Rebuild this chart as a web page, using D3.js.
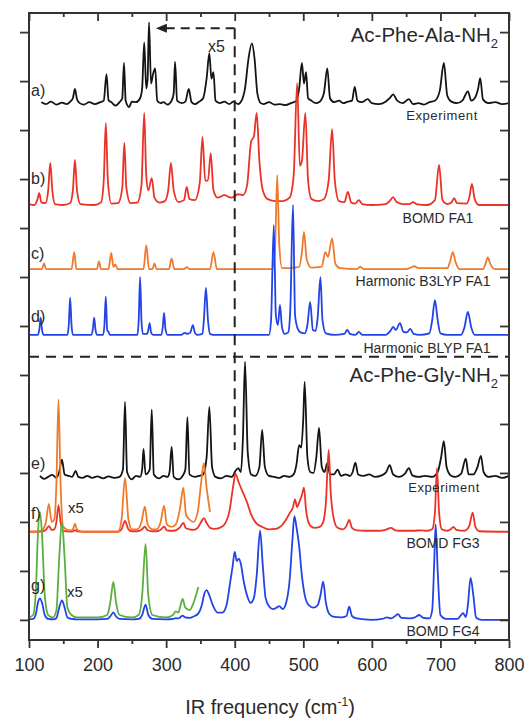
<!DOCTYPE html>
<html>
<head>
<meta charset="utf-8">
<script src="https://cdn.jsdelivr.net/npm/d3@7"></script>
<style>
  body { margin: 0; background: #fff; }
  svg { display: block; }
  text { font-family: "Liberation Sans", Arial, sans-serif; fill: #2a2a2a; }
</style>
</head>
<body>
<svg id="chart" width="525" height="718"></svg>
<script>
// ---- axis ticks -------------------------------------------------------
const freqTicks = [100, 200, 300, 400, 500, 600, 700, 800];
const freqMinorTicks = [150, 250, 350, 450, 550, 650, 750];
const intensityTicks = [0, 1, 2, 3, 4, 5, 6, 7, 8, 9, 10, 11, 12];

// ---- spectra: [frequency cm^-1, intensity (a.u.)] ---------------------
// Ac-Phe-Ala-NH2, experiment
const expFA = [[118,0.02],[125,-0.02],[132,0.03],[140,-0.03],[148,0.01],[155,-0.02],[160,0.03],[164,0.1],[167,0.29],[170,0.08],[174,0.0],[180,-0.03],[188,0.02],[196,-0.02],[204,0.02],[209,0.05],[213,0.59],[216,0.06],[220,0.02],[226,-0.05],[232,0.02],[236,0.1],[238.5,0.82],[241,0.05],[246,-0.08],[250,0.03],[256,0.02],[262,0.1],[265,0.3],[268,1.24],[271,0.3],[273,0.5],[275,1.65],[278,0.4],[281,0.6],[284,0.71],[287,0.05],[292,0.0],[296,0.02],[302,-0.03],[308,0.05],[311,0.2],[313,0.84],[316,0.05],[323,0.0],[328,0.03],[333,0.29],[337,0.02],[342,-0.02],[348,0.03],[354,0.1],[359,0.5],[363,1.02],[366,0.5],[369,0.63],[372,0.05],[378,0.0],[385,0.03],[392,-0.02],[398,0.03],[405,-0.02],[410,0.05],[415,0.3],[420,0.9],[425,1.22],[429,0.9],[433,0.2],[438,0.0],[442,-0.02],[450,0.02],[458,-0.03],[466,-0.02],[474,-0.04],[482,0.0],[490,0.05],[494,0.3],[498,0.82],[501,0.4],[504,0.63],[507,0.1],[512,0.05],[518,0.0],[524,0.03],[530,0.2],[535,0.71],[539,0.1],[545,0.02],[552,0.05],[558,0.0],[565,0.03],[571,0.05],[575,0.33],[579,0.05],[585,0.02],[594,0.08],[600,0.0],[610,-0.02],[620,0.03],[626,0.1],[631,0.18],[637,0.05],[645,0.0],[654,0.08],[660,-0.02],[668,0.0],[676,-0.03],[684,0.02],[692,0.05],[699,0.25],[705,0.82],[710,0.15],[716,0.03],[724,0.0],[732,0.05],[740,0.24],[745,0.05],[750,0.1],[755,0.3],[758,0.51],[762,0.08],[770,0.0],[780,0.02],[790,-0.02],[800,0.0]];

// BOMD FA1
const bomdFA1 = [[100,0.02],[108,0.0],[112,0.1],[115,0.24],[118,0.05],[124,0.04],[128,0.3],[131,0.86],[134,0.3],[138,0.02],[150,0.0],[160,0.04],[164,0.3],[167,0.92],[170,0.3],[175,0.02],[195,0.0],[205,0.05],[209,0.5],[212,1.67],[215,0.5],[220,0.03],[230,0.04],[236,0.35],[239,1.27],[242,0.35],[248,0.04],[258,0.05],[264,0.4],[268,1.88],[271,0.6],[274,0.3],[279,0.55],[283,0.15],[290,0.05],[298,0.08],[303,0.3],[307,0.86],[311,0.3],[318,0.06],[326,0.1],[330,0.37],[334,0.12],[342,0.1],[349,0.45],[353,1.39],[357,0.5],[361,0.5],[365,1.06],[369,0.3],[375,0.15],[385,0.2],[395,0.15],[405,0.22],[412,0.2],[418,0.4],[424,1.3],[428,1.4],[432,1.88],[436,0.9],[441,0.3],[448,0.12],[460,0.08],[470,0.08],[480,0.15],[486,0.6],[491,2.49],[495,0.8],[498,0.9],[503,1.88],[507,0.5],[512,0.12],[522,0.08],[530,0.12],[537,0.5],[542,1.55],[546,0.5],[552,0.08],[560,0.06],[565,0.27],[570,0.05],[576,0.03],[581,0.1],[586,0.02],[600,0.0],[620,0.02],[626,0.08],[631,0.16],[636,0.06],[645,0.02],[655,0.02],[660,0.06],[665,0.02],[680,0.0],[692,0.1],[698,0.82],[703,0.1],[710,0.02],[716,0.05],[720,0.14],[724,0.04],[738,0.03],[742,0.15],[746,0.43],[750,0.12],[756,0.0],[800,0.0]];

// Harmonic B3LYP FA1
const b3lypFA1 = [[100,0],[119,0],[122,0.12],[125,0],[162,0],[166,0.35],[169,0],[199,0],[202,0.16],[205,0],[216,0],[220,0.33],[223,0.05],[226,0.1],[229,0],[267,0],[271,0.49],[275,0],[280,0],[283,0.12],[286,0],[304,0],[308,0.22],[312,0],[326,0],[330,0.04],[334,0],[364,0],[369,0.35],[374,0],[455,0],[459,0.5],[462,1.92],[465,0.5],[469,0.02],[480,0.02],[485,0.03],[494,0.05],[498,0.35],[501,0.76],[505,0.2],[512,0.03],[527,0.05],[532,0.35],[536,0.25],[542,0.63],[547,0.1],[554,0.02],[578,0],[583,0.05],[588,0],[650,0],[658,0.04],[662,0.06],[668,0.02],[710,0.02],[714,0.15],[718,0.35],[722,0.15],[728,0],[762,0],[766,0.12],[769,0.24],[773,0.1],[780,0],[800,0]];

// Harmonic BLYP FA1
const blypFA1 = [[100,0],[113,0],[115,0.1],[117,0.35],[119,0.1],[121,0],[156,0],[158,0.2],[160,0.76],[162,0.2],[164,0],[191,0],[193,0.1],[195,0.35],[197,0.1],[199,0],[208,0],[210,0.2],[212,0.78],[214,0.1],[216,0.06],[218,0],[258,0],[260,0.3],[262,1.18],[264,0.3],[266,0.02],[272,0.02],[274,0.1],[276,0.24],[278,0.05],[281,0],[293,0],[295,0.15],[297,0.45],[299,0.12],[302,0],[322,0],[327,0.04],[331,0.02],[335,0.04],[339,0.2],[342,0.04],[345,0],[353,0.02],[355,0.3],[358,0.96],[361,0.3],[364,0.02],[369,0],[450,0],[453,0.3],[457,2.24],[460,0.4],[463,0.2],[466,0.61],[469,0.15],[473,0.02],[478,0.05],[481,0.5],[485,2.65],[488,0.4],[492,0.12],[496,0.05],[502,0.03],[506,0.2],[510,0.67],[514,0.1],[518,0.08],[521,0.35],[525,1.18],[528,0.3],[533,0.03],[545,0],[560,0.02],[564,0.1],[568,0.02],[576,0],[581,0.06],[586,0],[620,0],[627,0.08],[631,0.16],[635,0.1],[641,0.24],[646,0.06],[651,0.05],[656,0.12],[661,0.02],[670,0],[684,0.03],[688,0.3],[692,0.71],[696,0.3],[700,0.03],[710,0],[730,0],[735,0.15],[740,0.47],[745,0.15],[750,0],[800,0]];

// Ac-Phe-Gly-NH2, experiment
const expFG = [[116,0.02],[122,-0.04],[128,0.0],[134,0.04],[140,-0.02],[144,0.1],[148,0.35],[152,0.05],[158,0.02],[163,0.0],[168,0.12],[172,0.0],[178,-0.02],[185,0.02],[192,-0.02],[200,0.01],[208,-0.03],[216,0.01],[224,-0.02],[232,0.0],[237,0.15],[240,1.53],[243,0.1],[250,-0.05],[256,0.02],[262,0.0],[265,0.15],[267,0.57],[270,0.05],[276,0.15],[279,1.37],[282,0.05],[290,-0.03],[296,0.02],[302,0.0],[305,0.1],[308,0.61],[311,0.0],[318,-0.05],[324,0.02],[328,0.15],[331,1.22],[334,0.05],[342,0.0],[348,0.02],[354,0.05],[359,0.4],[363,1.43],[367,0.2],[372,0.0],[380,-0.03],[388,0.02],[396,0.0],[401,0.12],[405,0.18],[409,0.1],[412,0.8],[415,2.35],[419,0.5],[424,0.05],[430,0.02],[436,0.2],[440,0.96],[444,0.2],[450,0.02],[458,0.0],[465,-0.02],[472,0.02],[480,0.0],[486,0.05],[490,0.25],[494,0.65],[497,0.6],[500,1.2],[502,1.94],[506,0.4],[510,0.1],[515,0.08],[519,0.4],[523,1.0],[527,0.2],[531,0.1],[535,0.28],[539,0.05],[545,0.05],[550,0.15],[555,0.02],[562,0.05],[568,0.02],[572,0.1],[576,0.29],[580,0.05],[588,0.02],[596,0.05],[605,0.0],[614,0.03],[621,0.1],[626,0.24],[631,0.05],[640,0.0],[648,0.06],[654,0.18],[659,0.03],[668,0.0],[678,0.02],[688,0.0],[696,0.1],[701,0.4],[705,0.73],[709,0.2],[715,0.03],[722,0.0],[730,0.06],[737,0.37],[741,0.05],[748,0.05],[754,0.2],[759,0.43],[763,0.1],[770,0.0],[780,0.02],[790,-0.02],[800,0.02]];

// BOMD FG3
const bomdFG3 = [[100,0.0],[118,0.005],[124,0.03],[129,0.114],[133,0.04],[137,0.05],[140,0.2],[143,0.54],[146,0.2],[150,0.02],[160,0.005],[164,0.01],[167,0.033],[170,0.008],[180,0.0],[230,0.0],[235,0.05],[240,0.22],[245,0.05],[250,0.01],[258,0.01],[264,0.04],[269,0.102],[273,0.03],[280,0.01],[286,0.01],[292,0.04],[297,0.106],[301,0.03],[308,0.02],[314,0.03],[320,0.09],[325,0.18],[329,0.07],[334,0.05],[340,0.04],[346,0.08],[351,0.2],[355,0.28],[359,0.18],[364,0.08],[370,0.06],[378,0.08],[385,0.15],[392,0.4],[398,0.95],[401,1.18],[406,1.0],[412,0.8],[418,0.6],[424,0.35],[431,0.18],[440,0.1],[450,0.05],[460,0.06],[468,0.12],[475,0.25],[481,0.4],[485,0.5],[488,0.66],[491,0.5],[494,0.6],[498,0.75],[501,0.9],[504,0.45],[509,0.15],[516,0.08],[524,0.1],[529,0.2],[533,0.6],[537,1.67],[540,0.8],[544,0.3],[550,0.08],[558,0.05],[563,0.12],[567,0.24],[571,0.08],[578,0.03],[590,0.02],[610,0.02],[620,0.04],[628,0.08],[634,0.03],[645,0.02],[660,0.02],[672,0.03],[680,0.02],[688,0.05],[692,0.4],[695,1.3],[698,0.4],[702,0.05],[710,0.02],[715,0.05],[719,0.1],[723,0.04],[735,0.02],[742,0.12],[747,0.39],[751,0.1],[757,0.01],[800,0.0]];

// BOMD FG4
const bomdFG4 = [[100,0.01],[106,0.02],[110,0.12],[113,0.35],[116,0.44],[119,0.35],[123,0.1],[128,0.02],[135,0.01],[140,0.04],[144,0.25],[148,0.4],[152,0.25],[156,0.05],[162,0.02],[170,0.01],[200,0.01],[214,0.02],[219,0.08],[223,0.155],[227,0.07],[232,0.02],[250,0.01],[260,0.02],[265,0.1],[270,0.31],[274,0.1],[280,0.02],[300,0.01],[310,0.02],[314,0.035],[318,0.03],[321,0.06],[324,0.086],[328,0.05],[334,0.04],[340,0.07],[347,0.134],[352,0.3],[356,0.55],[359,0.61],[363,0.5],[368,0.3],[375,0.15],[382,0.15],[388,0.3],[393,0.73],[397,1.1],[400,1.39],[403,1.2],[406,1.25],[409,1.14],[413,0.8],[418,0.5],[423,0.35],[428,0.45],[432,0.9],[437,1.82],[441,1.1],[445,0.45],[450,0.28],[456,0.22],[461,0.25],[465,0.28],[470,0.22],[475,0.35],[480,0.8],[484,1.6],[487,2.12],[490,1.9],[494,1.5],[498,0.9],[503,0.45],[508,0.3],[515,0.25],[521,0.3],[525,0.5],[529,0.78],[533,0.35],[538,0.12],[545,0.06],[555,0.05],[563,0.08],[567,0.27],[571,0.08],[578,0.03],[600,0.0],[615,0.02],[622,0.05],[628,0.03],[634,0.08],[638,0.12],[643,0.04],[655,0.03],[664,0.06],[669,0.1],[675,0.04],[684,0.03],[688,0.2],[691,1.2],[693,1.95],[696,1.0],[700,0.1],[708,0.02],[725,0.02],[730,0.1],[733,0.14],[737,0.06],[740,0.3],[744,0.86],[748,0.5],[752,0.05],[760,0.0],[800,0.0]];

// ---- layout -----------------------------------------------------------
const plot = { left: 29, right: 509, top: 13, bottom: 640 };

const x = d3.scaleLinear().domain([100, 800]).range([plot.left, plot.right]);
const y = d3.scaleLinear().domain([-0.41, 12.39]).range([plot.bottom, plot.top]);

const COLORS = {
  black: "#141414", red: "#ea3326", orange: "#f07a2c", blue: "#2343e6", green: "#5cae3e"
};

// each trace: data, vertical offset, colour, optional magnification and cut-off
const traces = [
  { data: expFA,    offset: 10.55, color: COLORS.black },
  { data: bomdFA1,  offset: 8.47,  color: COLORS.red },
  { data: b3lypFA1, offset: 7.16,  color: COLORS.orange },
  { data: blypFA1,  offset: 5.82,  color: COLORS.blue },
  { data: expFG,    offset: 2.92,  color: COLORS.black },
  { data: bomdFG3,  offset: 1.80,  color: COLORS.red },
  { data: bomdFG3,  offset: 1.80,  color: COLORS.orange, scale: 5, maxFreq: 368 },
  { data: bomdFG4,  offset: 0.0,   color: COLORS.blue },
  { data: bomdFG4,  offset: 0.0,   color: COLORS.green, scale: 5, maxFreq: 349 }
];

const svg = d3.select("#chart");

svg.append("defs").append("clipPath").attr("id", "plotClip")
  .append("rect")
  .attr("x", plot.left).attr("y", plot.top)
  .attr("width", plot.right - plot.left).attr("height", plot.bottom - plot.top);

// ---- spectra ----------------------------------------------------------
const traceLayer = svg.append("g").attr("clip-path", "url(#plotClip)");

traces.forEach(t => {
  const k = t.scale || 1;
  const pts = t.maxFreq ? t.data.filter(d => d[0] <= t.maxFreq) : t.data;
  const line = d3.line()
    .x(d => x(d[0]))
    .y(d => y(t.offset + k * d[1]))
    .curve(d3.curveMonotoneX);
  traceLayer.append("path")
    .attr("d", line(pts))
    .attr("fill", "none")
    .attr("stroke", t.color)
    .attr("stroke-width", 1.8)
    .attr("stroke-linejoin", "round");
});

// ---- dashed guides ----------------------------------------------------
const guide = svg.append("g")
  .attr("stroke", "#222").attr("stroke-width", 2).attr("fill", "none");

// vertical divider at 400 cm^-1
guide.append("line")
  .attr("x1", x(400)).attr("x2", x(400))
  .attr("y1", y(12.08)).attr("y2", y(3.47))
  .attr("stroke-dasharray", "11,7");

// horizontal divider between the two molecules
guide.append("line")
  .attr("x1", plot.left).attr("x2", plot.right)
  .attr("y1", y(5.37)).attr("y2", y(5.37))
  .attr("stroke-dasharray", "10,7");

// arrow marking the magnified low-frequency range
guide.append("line")
  .attr("x1", x(400)).attr("x2", x(300))
  .attr("y1", y(12.08)).attr("y2", y(12.08))
  .attr("stroke-dasharray", "9,6");
const ax = x(285), ay = y(12.08);
svg.append("path")
  .attr("d", `M${ax},${ay} L${ax + 11},${ay - 4.5} L${ax + 11},${ay + 4.5} Z`)
  .attr("fill", "#222");

// ---- frame and axes ---------------------------------------------------
const axisStyle = g => {
  g.select(".domain").remove();
  g.selectAll(".tick line").attr("stroke", "#333").attr("stroke-width", 1.8);
};

svg.append("g")
  .attr("transform", `translate(0,${plot.bottom})`)
  .call(d3.axisBottom(x).tickValues(freqTicks).tickSize(8).tickPadding(10).tickFormat(d3.format("d")))
  .call(axisStyle)
  .call(g => g.selectAll("text")
    .attr("font-size", 18).attr("fill", "#2a2a2a")
    .attr("font-family", "'Liberation Sans', Arial, sans-serif"));

svg.append("g")
  .attr("transform", `translate(0,${plot.bottom})`)
  .call(d3.axisBottom(x).tickValues(freqMinorTicks).tickSize(4).tickFormat(""))
  .call(axisStyle);

// top edge: inward ticks
svg.append("g")
  .attr("transform", `translate(0,${plot.top})`)
  .call(d3.axisBottom(x).tickValues(freqTicks).tickSize(8).tickFormat(""))
  .call(axisStyle);
svg.append("g")
  .attr("transform", `translate(0,${plot.top})`)
  .call(d3.axisBottom(x).tickValues(freqMinorTicks).tickSize(4).tickFormat(""))
  .call(axisStyle);

// left edge: outward ticks, right edge: inward ticks
svg.append("g")
  .attr("transform", `translate(${plot.left},0)`)
  .call(d3.axisLeft(y).tickValues(intensityTicks).tickSize(9).tickFormat(""))
  .call(axisStyle);
svg.append("g")
  .attr("transform", `translate(${plot.right},0)`)
  .call(d3.axisLeft(y).tickValues(intensityTicks).tickSize(9).tickFormat(""))
  .call(axisStyle);

svg.append("rect")
  .attr("x", plot.left).attr("y", plot.top)
  .attr("width", plot.right - plot.left).attr("height", plot.bottom - plot.top)
  .attr("fill", "none").attr("stroke", "#333").attr("stroke-width", 2);

// axis title
const xt = svg.append("text")
  .attr("x", 270).attr("y", 714)
  .attr("text-anchor", "middle").attr("font-size", 20);
xt.append("tspan").text("IR frequency (cm");
xt.append("tspan").attr("dy", -8).attr("font-size", 12).text("-1");
xt.append("tspan").attr("dy", 8).text(")");

// ---- annotations ------------------------------------------------------
function molecule(label, baseline) {
  const t = svg.append("text")
    .attr("x", 498).attr("y", baseline)
    .attr("text-anchor", "end").attr("font-size", 20.5);
  t.append("tspan").text(label);
  t.append("tspan").attr("dy", 6).attr("font-size", 13).text("2");
}
molecule("Ac-Phe-Ala-NH", 42);
molecule("Ac-Phe-Gly-NH", 382);

const traceNames = [
  { text: "Experiment",          cx: 442, y: 120, size: 13 },
  { text: "BOMD FA1",            cx: 438, y: 223, size: 14 },
  { text: "Harmonic B3LYP FA1",  cx: 423, y: 286, size: 14 },
  { text: "Harmonic BLYP FA1",   cx: 427, y: 353, size: 14 },
  { text: "Experiment",          cx: 444, y: 492, size: 13 },
  { text: "BOMD FG3",            cx: 443, y: 548, size: 14 },
  { text: "BOMD FG4",            cx: 443, y: 636, size: 14 }
];
traceNames.forEach(n => {
  svg.append("text")
    .attr("x", n.cx).attr("y", n.y)
    .attr("text-anchor", "middle")
    .attr("font-size", n.size)
    .attr("letter-spacing", n.text === "Experiment" ? 0.6 : 0)
    .text(n.text);
});

const panelLetters = [
  { text: "a)", y: 96 }, { text: "b)", y: 184 }, { text: "c)", y: 259 },
  { text: "d)", y: 322 }, { text: "e)", y: 469 }, { text: "f)", y: 519 },
  { text: "g)", y: 591 }
];
panelLetters.forEach(p => {
  svg.append("text")
    .attr("x", 31).attr("y", p.y)
    .attr("font-size", 16)
    .text(p.text);
});

const magnifications = [
  { x: 208, y: 52, size: 16 },
  { x: 68,  y: 513, size: 15 },
  { x: 67,  y: 597, size: 15 }
];
magnifications.forEach(m => {
  svg.append("text")
    .attr("x", m.x).attr("y", m.y)
    .attr("font-size", m.size)
    .text("x5");
});
</script>
</body>
</html>
